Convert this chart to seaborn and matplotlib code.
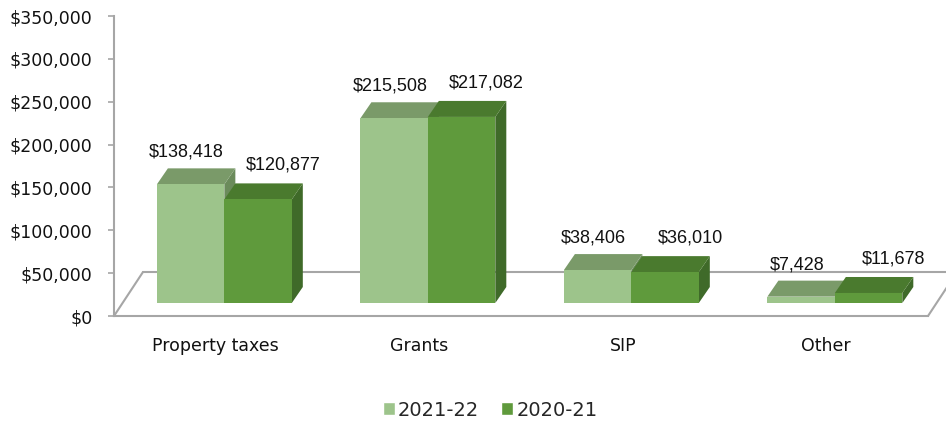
import pandas as pd
import seaborn as sns
from matplotlib import pyplot as plt
from matplotlib.patches import Polygon, Patch
from matplotlib.ticker import FuncFormatter
import numpy as np

sns.set_style("white")
plt.rcParams["font.family"] = ["DejaVu Sans"]

categories = ["Property taxes", "Grants", "SIP", "Other"]
years = ["2021-22", "2020-21"]
vals_2122 = [138418, 215508, 38406, 7428]
vals_2021 = [120877, 217082, 36010, 11678]

# front / top / side colours per year
FRONT = ["#9dc48b", "#5f9a3c"]
TOP = ["#7a9a69", "#4a7a2e"]
SIDE = ["#6b8b5b", "#3f6a29"]
GRID = "#a6a6a6"

d = pd.DataFrame({
    "category": categories * 2,
    "value": vals_2122 + vals_2021,
    "year": [years[0]] * 4 + [years[1]] * 4,
})

fig = plt.figure(figsize=(9.46, 4.23), dpi=100)
ax = fig.add_axes([114 / 946, 107 / 423, 814 / 946, 300 / 423])

sns.barplot(data=d, x="category", y="value", hue="year", hue_order=years,
            palette=FRONT, width=0.663, saturation=1, linewidth=0,
            legend=False, ax=ax)

ax.set_xlim(-0.5, 3.5)
ax.set_ylim(0, 350000)

# data units per pixel
sx = 4.0 / 814
sy = 350000 / 300

# floor
fdx, fdy = 29 * sx, 44 * sy
kw = dict(color=GRID, lw=1.5, clip_on=False, zorder=1)
ax.plot([-0.5, -0.5 + fdx], [0, fdy], **kw)
ax.plot([-0.5 + fdx, 3.5 + fdx], [fdy, fdy], **kw)
ax.plot([3.5, 3.5 + fdx], [0, fdy], **kw)

# 3d effect on the bars
ox, oy = 8.6 * sx, 13 * sy
dx, dy = 11 * sx, 16 * sy
lab_dx = [-4 * sx, 25 * sx]
lab_dy = [16 * sy, 18 * sy]
for i, cont in enumerate(ax.containers):
    z = 2 + i
    for bar in cont:
        x, w, h = bar.get_x(), bar.get_width(), bar.get_height()
        x0 = x + ox
        bar.set_x(x0)
        bar.set_y(oy)
        bar.set_zorder(z + 0.2)
        top = [(x0, oy + h), (x0 + w, oy + h), (x0 + w + dx, oy + h + dy), (x0 + dx, oy + h + dy)]
        side = [(x0 + w, oy), (x0 + w + dx, oy + dy), (x0 + w + dx, oy + h + dy), (x0 + w, oy + h)]
        ax.add_patch(Polygon(side, closed=True, fc=SIDE[i], ec="none", zorder=z))
        ax.add_patch(Polygon(top, closed=True, fc=TOP[i], ec="none", zorder=z + 0.1))
        ax.text(x0 + w / 2 + lab_dx[i], oy + h + dy + lab_dy[i], f"${h:,.0f}",
                ha="center", va="center", fontsize=13, family="Liberation Sans",
                color="#111111", zorder=10)

sns.despine(ax=ax)
for s in ["left", "bottom"]:
    ax.spines[s].set_color(GRID)
    ax.spines[s].set_linewidth(1.5)

ax.set_yticks(np.arange(0, 350001, 50000))
ax.yaxis.set_major_formatter(FuncFormatter(lambda v, p: f"${v:,.0f}"))
ax.tick_params(axis="y", length=4.5, width=1.2, color=GRID, pad=11, labelsize=12.5, labelcolor="#111111")
ax.set_xticks(range(4))
ax.set_xticklabels(categories)
ax.set_xticks(np.arange(-0.5, 3.6, 1), minor=True)
ax.tick_params(axis="x", which="major", length=0, pad=15, labelsize=12.5, labelcolor="#111111")
ax.tick_params(axis="x", which="minor", length=4.5, width=1.2, color=GRID)
ax.tick_params(left=True, bottom=True)
ax.set_xlabel("")
ax.set_ylabel("")

handles = [Patch(fc=FRONT[0]), Patch(fc=FRONT[1])]
fig.legend(handles, years, loc="center", bbox_to_anchor=(490 / 946, 1 - 410 / 423), ncol=2,
           frameon=False, fontsize=14, handlelength=0.65, handleheight=0.65,
           handletextpad=0.15, columnspacing=1.1)

plt.savefig("out.png", dpi=100)
